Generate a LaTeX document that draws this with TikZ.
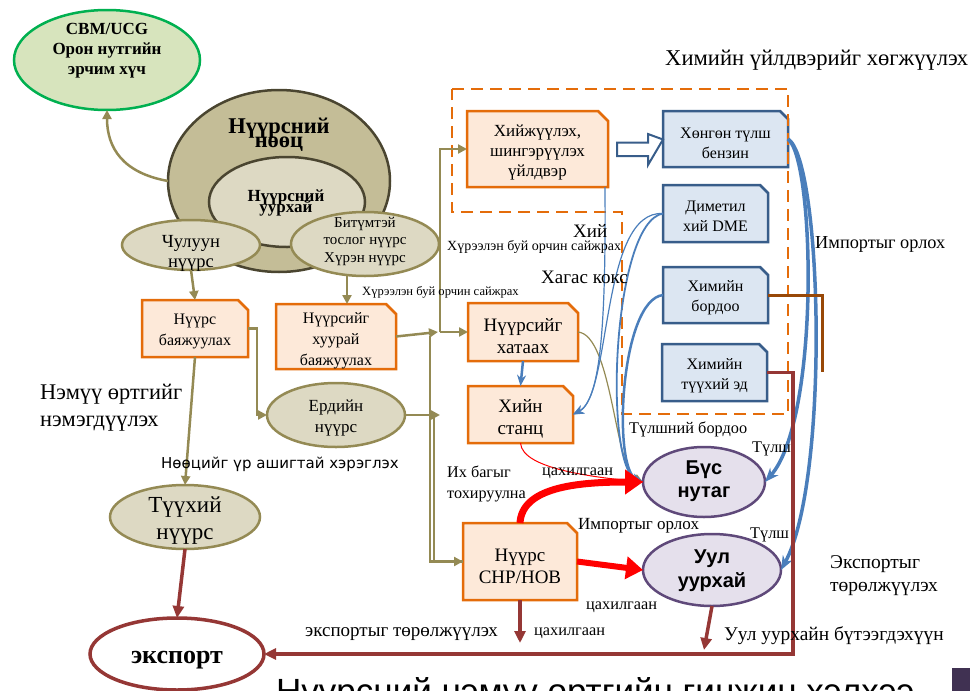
\documentclass[tikz,border=0pt]{standalone}
\usepackage{fontspec}
\setmainfont{Liberation Serif}
\newfontfamily\sansf{Liberation Sans}
\newfontfamily\dvs{DejaVu Sans}
\usetikzlibrary{shapes.geometric,arrows.meta,backgrounds,calc}
\definecolor{orB}{HTML}{E46C0A}
\definecolor{orF}{HTML}{FDE9D9}
\definecolor{blB}{HTML}{385D8A}
\definecolor{blF}{HTML}{DCE6F2}
\definecolor{olv}{HTML}{948A54}
\definecolor{tanF}{HTML}{C4BD97}
\definecolor{lgF}{HTML}{DDD9C3}
\definecolor{dkB}{HTML}{4A4530}
\definecolor{grB}{HTML}{00B050}
\definecolor{grF}{HTML}{D7E4BD}
\definecolor{puB}{HTML}{5F497A}
\definecolor{puF}{HTML}{E5E0EC}
\definecolor{dred}{HTML}{953735}
\definecolor{brn}{HTML}{984807}
\definecolor{blA}{HTML}{4A7EBB}
\definecolor{puR}{HTML}{403152}
\newcommand\fsz[2]{\fontsize{#1}{#2}\selectfont}
\newcommand\chamf[3]{\path[#2] (#1.south west) -- (#1.north west) -- ([xshift=-#3]#1.north east) -- ([yshift=-#3]#1.north east) -- (#1.south east) -- cycle;}
\begin{document}
\begin{tikzpicture}[x=1pt,y=-1pt,
  bx/.style={draw=none,inner sep=0,outer sep=0},
  ell/.style={ellipse,inner sep=0,outer sep=0,line width=2.5pt},
  obox/.style={draw=orB,fill=orF,line width=2.5pt},
  bbox/.style={draw=blB,fill=blF,line width=2.5pt},
  txt/.style={inner sep=0,align=center},
  lbl/.style={inner sep=0,anchor=base west},
  oarr/.style={draw=olv,line width=2.5pt,-{Triangle[length=9pt,width=9pt]}},
  oline/.style={draw=olv,line width=2.5pt},
  rarr/.style={draw=dred,line width=3.5pt,-{Triangle[length=12pt,width=11pt]}},
  barr/.style={draw=blA,line width=3.5pt,-{Stealth[length=14pt,width=11pt]}},
  bthin/.style={draw=blA,line width=1.2pt,-{Stealth[length=11pt,width=9pt]}}]
\useasboundingbox (0,0) rectangle (970,691);

% ---------- ellipses ----------
\node[ell,draw=grB,fill=grF,minimum width=186pt,minimum height=100pt] (cbm) at (107,60) {};
\node[txt,font=\bfseries\fsz{17}{20}] (cbmt) at (107,51) {CBM/UCG\\Орон нутгийн\\эрчим хүч};

\node[ell,draw=dkB,fill=tanF,minimum width=222pt,minimum height=182pt] (res) at (279,181) {};
\node[inner sep=0,anchor=base,font=\bfseries\fsz{22.5}{23}] (rest1) at (279,133) {Нүүрсний};
\node[inner sep=0,anchor=base,font=\bfseries\fsz{22.5}{23}] (rest2) at (279,147) {нөөц};
\node[ell,draw=dkB,fill=lgF,minimum width=156pt,minimum height=90pt] (mine) at (287,202) {};
\node[inner sep=0,anchor=base,font=\bfseries\fsz{17}{17}] (minet1) at (286,201) {Нүүрсний};
\node[inner sep=0,anchor=base,font=\bfseries\fsz{17}{17}] (minet2) at (286,212) {уурхай};

\node[ell,draw=olv,fill=lgF,minimum width=138pt,minimum height=50pt] (chul) at (191,245) {};
\node[txt,font=\fsz{18.5}{20}] (chult) at (191,253) {Чулуун\\нүүрс};
\node[ell,draw=olv,fill=lgF,minimum width=148pt,minimum height=64pt] (bit) at (365,244) {};
\node[txt,font=\fsz{15}{17.5}] (bitt) at (365,241) {Битүмтэй\\тослог нүүрс\\Хүрэн нүүрс};
\node[ell,draw=olv,fill=lgF,minimum width=138pt,minimum height=64pt] (erd) at (336,415) {};
\node[txt,font=\fsz{17}{21}] (erdt) at (336,418) {Ердийн\\нүүрс};
\node[ell,draw=olv,fill=lgF,minimum width=150pt,minimum height=64pt] (tuh) at (185,517) {};
\node[txt,font=\fsz{23}{27}] (tuht) at (185,521) {Түүхий\\нүүрс};
\node[ell,draw=dred,fill=white,line width=3.5pt,minimum width=174pt,minimum height=72pt] (exp) at (177,654) {};
\node[inner sep=0,anchor=base,font=\bfseries\fsz{26}{26}] (expt) at (177,663) {экспорт};
\node[ell,draw=puB,fill=puF,minimum width=122pt,minimum height=70pt] (bus) at (704,482) {};
\node[txt,font=\sansf\bfseries\fsz{20}{23}] (bust) at (704,481) {Бүс\\нутаг};
\node[ell,draw=puB,fill=puF,minimum width=138pt,minimum height=72pt] (uul) at (712,570) {};
\node[txt,font=\sansf\bfseries\fsz{20}{24}] (uult) at (712,571) {Уул\\уурхай};

% ---------- boxes ----------
\node[bx,minimum width=106pt,minimum height=57pt] (nb) at (195,328.5) {};
\node[bx,minimum width=120pt,minimum height=65pt] (hb) at (336,336.5) {};
\node[bx,minimum width=141pt,minimum height=76pt] (hz) at (537.5,149) {};
\node[bx,minimum width=110pt,minimum height=58pt] (hat) at (523,332) {};
\node[bx,minimum width=105pt,minimum height=57pt] (hs) at (520.5,414.5) {};
\node[bx,minimum width=114pt,minimum height=77pt] (chp) at (520,561.5) {};
\node[bx,minimum width=125pt,minimum height=56pt] (b1) at (725.5,139) {};
\node[bx,minimum width=105pt,minimum height=57pt] (b2) at (715.5,213.5) {};
\node[bx,minimum width=105pt,minimum height=56pt] (b3) at (715.5,295) {};
\node[bx,minimum width=105pt,minimum height=57pt] (b4) at (714.5,372.5) {};
\begin{pgfonlayer}{background}
\chamf{nb}{obox}{10pt}
\chamf{hb}{obox}{10pt}
\chamf{hz}{obox}{10pt}
\chamf{hat}{obox}{10pt}
\chamf{hs}{obox}{10pt}
\chamf{chp}{obox}{10pt}
\chamf{b1}{bbox}{8pt}
\chamf{b2}{bbox}{8pt}
\chamf{b3}{bbox}{8pt}
\chamf{b4}{bbox}{8pt}
\end{pgfonlayer}
\node[txt,font=\fsz{16}{21}] (nbt) at (195,331) {Нүүрс\\баяжуулах};
\node[txt,font=\fsz{16}{21}] (hbt) at (336,341) {Нүүрсийг\\хуурай\\баяжуулах};
\node[txt,font=\fsz{17}{20}] (hzt) at (537.5,152) {Хийжүүлэх,\\шингэрүүлэх\\үйлдвэр};
\node[txt,font=\fsz{19}{22}] (hatt) at (523,336) {Нүүрсийг\\хатаах};
\node[txt,font=\fsz{19}{22}] (hst) at (520.5,419) {Хийн\\станц};
\node[txt,font=\fsz{19}{22}] (chpt) at (520,566) {Нүүрс\\CHP/HOB};
\node[txt,font=\fsz{16}{20}] (b1t) at (725.5,143) {Хөнгөн түлш\\бензин};
\node[txt,font=\fsz{16}{20}] (b2t) at (715.5,216) {Диметил\\хий DME};
\node[txt,font=\fsz{16}{20}] (b3t) at (715.5,298) {Химийн\\бордоо};
\node[txt,font=\fsz{16}{20}] (b4t) at (714.5,376) {Химийн\\түүхий эд};

% dashed region
\draw[orB,line width=2.5pt,dash pattern=on 12pt off 7pt] (452,89) -- (788,89) -- (788,414) -- (622,414) -- (622,212) -- (452,212) -- cycle;

% ---------- olive connectors ----------
\coordinate (j1) at (440,332);
\coordinate (j2) at (430,336);
\coordinate (j3) at (440,415);
\coordinate (j4) at (434,415);
\draw[oarr] (res.west) .. controls +(-45,-8) and +(0,38) .. (cbm.south);
\draw[oarr] (chul.south) -- (nb.north);
\draw[oarr] ([xshift=11pt]hb.north |- bit.south) -- ([xshift=11pt]hb.north);
\draw[oarr] (nb.south) -- (tuh.north);
\draw[oarr] (nb.east) -- ++(9,0) |- (erd.west);
\draw[oarr] (hb.east) -- ([xshift=-2pt]j1);
\draw[oarr] (j1) |- (hz.west);
\draw[oarr] (j1) -- (hat.west);
\draw[oline] (j4) |- (chp.west);
\draw[oarr] (j2) |- (chp.west);
\draw[oarr] (erd.east) -- (j3);
\draw[draw=olv,line width=1.2pt,-{Triangle[length=9pt,width=8pt]}] (hat.east) .. controls (612,335) and (615,468) .. (bus.west);

% ---------- blue connectors ----------
\draw[blB,line width=2pt,fill=white,line join=miter] ($(hz.east)+(9,-6.5)$) -- ++(31,0) -- ++(0,-8.5) -- ($(b1.west)+(0,0.5)$) -- ($(hz.east)+(40,16)$) -- ++(0,-9) -- ++(-31,0) -- cycle;
\draw[barr] (b1.east) .. controls (815,160) and (820,420) .. (bus.east);
\draw[barr] (b1.east) .. controls (822,160) and (830,480) .. (uul.east);
\draw[blA,line width=2.5pt,-{Stealth[length=11pt,width=9pt]}] (hat.south) -- (hs.north);
\draw[bthin] ([xshift=-3pt]hz.south east) .. controls (606,330) and (600,400) .. (hs.east);
\draw[bthin] (b2.west) .. controls (600,210) and (612,395) .. (hs.east);
\draw[blA,line width=1.8pt,-{Stealth[length=11pt,width=9pt]}] (b2.west) .. controls (612,222) and (603,468) .. (bus.west);
\draw[blA,line width=2.5pt,-{Stealth[length=11pt,width=9pt]}] (b3.west) .. controls (620,300) and (612,470) .. (bus.west);

% ---------- red / brown connectors ----------
\coordinate (c1) at (793,654);
\coordinate (c2) at (822,372);
\coordinate (c3) at (704,650);
\coordinate (c4) at (520,643);
\draw[brn,line width=3pt] (b3.east) -| (c2);
\draw[rarr] (b4.east) -| (c1) -- (exp.east);
\draw[rarr] (uul.south) -- (c3);
\draw[rarr] (chp.south) -- (c4);
\draw[rarr] (tuh.south) -- (exp.north);
\draw[red,line width=1pt] (hs.south) .. controls (522,470) and (600,478) .. (bus.west);
\draw[red,line width=7pt,-{Triangle[length=18pt,width=24pt]}] (chp.north) .. controls (522,488) and (575,482) .. (bus.west);
\draw[red,line width=6pt,-{Triangle[length=17pt,width=22pt]}] (chp.east) -- (uul.west);

% ---------- labels ----------
\node[lbl,font=\fsz{22.6}{22}] (l1) at (665,65) {Химийн үйлдвэрийг хөгжүүлэх};
\node[lbl,font=\fsz{18.3}{18}] (l2) at (815,248) {Импортыг орлох};
\node[lbl,font=\fsz{19}{19}] (l3) at (573,237) {Хий};
\node[lbl,font=\fsz{14}{14}] (l4) at (447,250) {Хүрээлэн буй орчин сайжрах};
\node[lbl,font=\fsz{19}{19}] (l5) at (541,283) {Хагас кокс};
\node[lbl,font=\fsz{12.6}{13}] (l6) at (362,295) {Хүрээлэн буй орчин сайжрах};
\node[lbl,font=\fsz{22.4}{22}] (l7) at (40,399) {Нэмүү өртгийг};
\node[lbl,font=\fsz{22.4}{22}] (l8) at (40,426) {нэмэгдүүлэх};
\node[lbl,font=\dvs\fsz{15}{15}] (l9) at (161,468) {Нөөцийг үр ашигтай хэрэглэх};
\node[lbl,font=\fsz{16.2}{16}] (l10) at (447,477) {Их багыг};
\node[lbl,font=\fsz{16.2}{16}] (l11) at (447,498) {тохируулна};
\node[lbl,font=\fsz{16.3}{16}] (l12) at (542,475) {цахилгаан};
\node[lbl,font=\fsz{17}{17}] (l13) at (578,529) {Импортыг орлох};
\node[lbl,font=\fsz{16.3}{16}] (l14) at (586,609) {цахилгаан};
\node[lbl,font=\fsz{16.3}{16}] (l15) at (534,635) {цахилгаан};
\node[lbl,font=\fsz{19}{19}] (l16) at (305,636) {экспортыг төрөлжүүлэх};
\node[lbl,font=\fsz{19.4}{19}] (l17) at (724,640) {Уул уурхайн бүтээгдэхүүн};
\node[lbl,font=\fsz{19.5}{19}] (l18) at (830,568) {Экспортыг};
\node[lbl,font=\fsz{19.5}{19}] (l19) at (830,591) {төрөлжүүлэх};
\node[lbl,font=\fsz{16.3}{16}] (l20) at (629,433) {Түлшний бордоо};
\node[lbl,font=\fsz{16.3}{16}] (l21) at (752,452) {Түлш};
\node[lbl,font=\fsz{16.3}{16}] (l22) at (750,538) {Түлш};

% ---------- bottom title (cut off) ----------
\begin{scope}
\clip (0,0) rectangle (970,691);
\node[lbl,font=\sansf\fsz{35}{35}] (ttl) at (276,703) {Нүүрсний нэмүү өртгийн гинжин хэлхээ};
\node[fill=puR,inner sep=0,minimum width=18pt,minimum height=23pt,anchor=north west] (sq) at (952,668) {};
\end{scope}
\end{tikzpicture}
\end{document}
